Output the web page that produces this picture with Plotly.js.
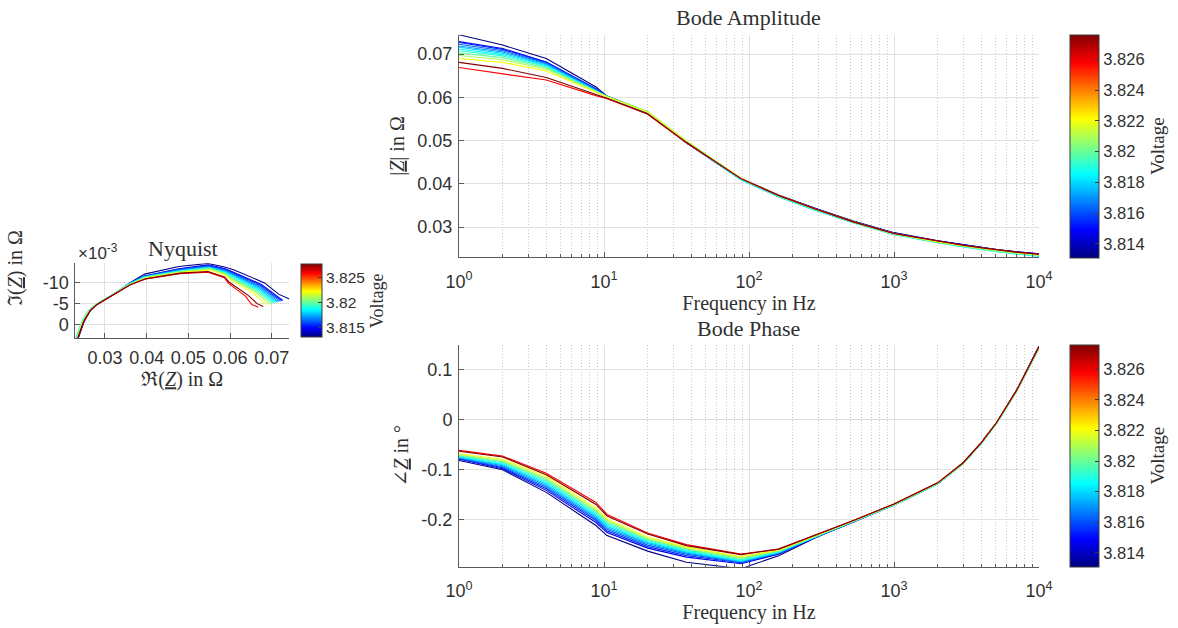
<!DOCTYPE html>
<html>
<head>
<meta charset="utf-8">
<script src="https://cdn.plot.ly/plotly-3.0.1.min.js"></script>
<style>html,body{margin:0;padding:0;background:#fff}#chart{width:1178px;height:628px}</style>
</head>
<body>
<div id="chart"></div>
<script>
// ---------------- data ----------------
const FREQ = [1, 2, 4, 8.8, 10.5, 20, 37, 88, 160, 290, 525, 1000, 2000, 3000, 4000, 5100, 7000, 10000];
const VOLTAGES = [3.8131, 3.8146, 3.8155, 3.8163, 3.8171, 3.8178, 3.8185, 3.8192, 3.8200, 3.8209, 3.8220, 3.8258, 3.8276];

// |Z| in Ohm, one row per voltage
const AMPLITUDE = [
  [0.0745, 0.0721, 0.0690, 0.0624, 0.0603, 0.0566, 0.0497, 0.0413, 0.0374, 0.0343, 0.0314, 0.0287, 0.0268, 0.0259, 0.0253, 0.0248, 0.0243, 0.0238],
  [0.0729, 0.0713, 0.0682, 0.0620, 0.0602, 0.0566, 0.0495, 0.0411, 0.0373, 0.0342, 0.0313, 0.0286, 0.0268, 0.0259, 0.0253, 0.0248, 0.0243, 0.0238],
  [0.0727, 0.0711, 0.0681, 0.0619, 0.0602, 0.0565, 0.0495, 0.0411, 0.0372, 0.0341, 0.0313, 0.0286, 0.0267, 0.0258, 0.0252, 0.0247, 0.0242, 0.0237],
  [0.0723, 0.0708, 0.0679, 0.0618, 0.0601, 0.0565, 0.0495, 0.0410, 0.0371, 0.0340, 0.0312, 0.0285, 0.0266, 0.0257, 0.0251, 0.0246, 0.0241, 0.0236],
  [0.0719, 0.0705, 0.0677, 0.0617, 0.0601, 0.0565, 0.0495, 0.0410, 0.0370, 0.0339, 0.0311, 0.0284, 0.0265, 0.0256, 0.0250, 0.0245, 0.0240, 0.0235],
  [0.0716, 0.0702, 0.0675, 0.0616, 0.0601, 0.0565, 0.0495, 0.0410, 0.0370, 0.0339, 0.0310, 0.0283, 0.0264, 0.0255, 0.0249, 0.0244, 0.0239, 0.0234],
  [0.0712, 0.0699, 0.0673, 0.0615, 0.0601, 0.0566, 0.0496, 0.0410, 0.0370, 0.0338, 0.0310, 0.0283, 0.0264, 0.0254, 0.0248, 0.0243, 0.0238, 0.0232],
  [0.0708, 0.0696, 0.0671, 0.0614, 0.0602, 0.0567, 0.0498, 0.0411, 0.0371, 0.0339, 0.0310, 0.0283, 0.0264, 0.0255, 0.0248, 0.0243, 0.0238, 0.0233],
  [0.0703, 0.0692, 0.0668, 0.0613, 0.0602, 0.0567, 0.0499, 0.0412, 0.0372, 0.0340, 0.0311, 0.0284, 0.0265, 0.0255, 0.0249, 0.0244, 0.0239, 0.0234],
  [0.0697, 0.0687, 0.0665, 0.0612, 0.0602, 0.0567, 0.0499, 0.0413, 0.0372, 0.0341, 0.0312, 0.0284, 0.0265, 0.0256, 0.0250, 0.0245, 0.0240, 0.0235],
  [0.0690, 0.0681, 0.0661, 0.0611, 0.0601, 0.0566, 0.0498, 0.0413, 0.0373, 0.0341, 0.0312, 0.0285, 0.0266, 0.0257, 0.0251, 0.0246, 0.0241, 0.0236],
  [0.0669, 0.0654, 0.0640, 0.0604, 0.0597, 0.0561, 0.0495, 0.0412, 0.0373, 0.0341, 0.0312, 0.0285, 0.0267, 0.0258, 0.0252, 0.0247, 0.0242, 0.0237],
  [0.0681, 0.0667, 0.0646, 0.0606, 0.0598, 0.0562, 0.0496, 0.0412, 0.0373, 0.0341, 0.0312, 0.0285, 0.0267, 0.0258, 0.0252, 0.0247, 0.0242, 0.0237]
];

// phase of Z, one row per voltage
const PHASE = [
  [-0.0814, -0.100, -0.145, -0.211, -0.231, -0.262, -0.284, -0.297, -0.271, -0.235, -0.204, -0.170, -0.128, -0.087, -0.047, -0.007, 0.058, 0.146],
  [-0.0790, -0.098, -0.141, -0.205, -0.225, -0.256, -0.274, -0.287, -0.268, -0.234, -0.204, -0.170, -0.128, -0.087, -0.047, -0.007, 0.058, 0.146],
  [-0.0780, -0.096, -0.138, -0.201, -0.222, -0.253, -0.271, -0.285, -0.267, -0.233, -0.203, -0.170, -0.128, -0.087, -0.047, -0.007, 0.058, 0.145],
  [-0.0770, -0.094, -0.135, -0.198, -0.219, -0.250, -0.268, -0.284, -0.266, -0.233, -0.203, -0.169, -0.127, -0.086, -0.046, -0.006, 0.058, 0.145],
  [-0.0760, -0.092, -0.132, -0.195, -0.216, -0.247, -0.266, -0.283, -0.265, -0.233, -0.203, -0.169, -0.127, -0.086, -0.046, -0.006, 0.058, 0.144],
  [-0.0750, -0.090, -0.129, -0.192, -0.213, -0.245, -0.264, -0.282, -0.265, -0.233, -0.203, -0.170, -0.128, -0.087, -0.047, -0.007, 0.057, 0.143],
  [-0.0740, -0.088, -0.126, -0.189, -0.210, -0.243, -0.262, -0.281, -0.264, -0.233, -0.203, -0.170, -0.128, -0.088, -0.048, -0.008, 0.056, 0.142],
  [-0.0725, -0.086, -0.123, -0.186, -0.207, -0.241, -0.260, -0.279, -0.263, -0.232, -0.203, -0.170, -0.128, -0.088, -0.048, -0.008, 0.056, 0.142],
  [-0.0710, -0.084, -0.120, -0.183, -0.204, -0.239, -0.258, -0.277, -0.262, -0.232, -0.202, -0.169, -0.127, -0.087, -0.047, -0.007, 0.057, 0.143],
  [-0.0695, -0.082, -0.117, -0.180, -0.201, -0.237, -0.256, -0.275, -0.261, -0.231, -0.202, -0.169, -0.127, -0.087, -0.047, -0.007, 0.057, 0.143],
  [-0.0680, -0.079, -0.113, -0.176, -0.198, -0.234, -0.254, -0.273, -0.260, -0.231, -0.202, -0.168, -0.126, -0.086, -0.046, -0.006, 0.058, 0.144],
  [-0.0614, -0.0728, -0.107, -0.165, -0.189, -0.226, -0.249, -0.268, -0.258, -0.230, -0.201, -0.168, -0.126, -0.086, -0.046, -0.006, 0.058, 0.145],
  [-0.0630, -0.0745, -0.110, -0.169, -0.192, -0.228, -0.251, -0.269, -0.258, -0.230, -0.201, -0.168, -0.126, -0.086, -0.046, -0.006, 0.058, 0.145]
];

// tick labels
const FREQ_TICKS = [1, 10, 100, 1000, 10000];
const FREQ_TICK_TEXT = ['10<sup>0</sup>', '10<sup>1</sup>', '10<sup>2</sup>', '10<sup>3</sup>', '10<sup>4</sup>'];
const AMP_TICKS = [0.03, 0.04, 0.05, 0.06, 0.07];
const AMP_TICK_TEXT = ['0.03', '0.04', '0.05', '0.06', '0.07'];
const PHASE_TICKS = [-0.2, -0.1, 0, 0.1];
const PHASE_TICK_TEXT = ['-0.2', '-0.1', '0', '0.1'];
const NYQ_X_TICKS = [0.03, 0.04, 0.05, 0.06, 0.07];
const NYQ_X_TICK_TEXT = ['0.03', '0.04', '0.05', '0.06', '0.07'];
const NYQ_Y_TICKS = [-0.01, -0.005, 0];
const NYQ_Y_TICK_TEXT = ['-10', '-5', '0'];
const CB_BODE_TICKS = [3.814, 3.816, 3.818, 3.82, 3.822, 3.824, 3.826];
const CB_BODE_TICK_TEXT = ['3.814', '3.816', '3.818', '3.82', '3.822', '3.824', '3.826'];
const CB_NYQ_TICKS = [3.815, 3.82, 3.825];
const CB_NYQ_TICK_TEXT = ['3.815', '3.82', '3.825'];

// ---------------- styling helpers ----------------
const W = 1178, H = 628;
const px = v => v / W;
const py = v => 1 - v / H;
const SANS = 'Liberation Sans, Arial, Helvetica, sans-serif';
const SERIF = 'Liberation Serif, Times New Roman, DejaVu Serif, serif';
const TXT = '#303030';

function jet(t) {
  const c = v => Math.round(255 * Math.max(0, Math.min(1, v)));
  return 'rgb(' + c(1.5 - Math.abs(4 * t - 3)) + ',' + c(1.5 - Math.abs(4 * t - 2)) + ',' + c(1.5 - Math.abs(4 * t - 1)) + ')';
}
const vMin = Math.min(...VOLTAGES), vMax = Math.max(...VOLTAGES);
const JET_SCALE = [0, 0.125, 0.375, 0.625, 0.875, 1].map(s => [s, jet(s)]);
const colorOf = v => jet((v - vMin) / (vMax - vMin));

const traces = [];
VOLTAGES.forEach((v, i) => {
  const col = colorOf(v);
  const line = {color: col, width: 1.1};
  traces.push({type: 'scatter', mode: 'lines', x: FREQ, y: AMPLITUDE[i], xaxis: 'x', yaxis: 'y', line: line, name: v + ' V', showlegend: false, hoverinfo: 'skip'});
  traces.push({type: 'scatter', mode: 'lines', x: FREQ, y: PHASE[i], xaxis: 'x2', yaxis: 'y2', line: line, name: v + ' V', showlegend: false, hoverinfo: 'skip'});
  const re = AMPLITUDE[i].map((a, k) => a * Math.cos(PHASE[i][k]));
  const im = AMPLITUDE[i].map((a, k) => a * Math.sin(PHASE[i][k]));
  traces.push({type: 'scatter', mode: 'lines', x: re, y: im, xaxis: 'x3', yaxis: 'y3', line: line, name: v + ' V', showlegend: false, hoverinfo: 'skip'});
});

function cbTrace(xa, ya, xv, yv, cb) {
  return {type: 'scatter', mode: 'markers', x: [xv], y: [yv], xaxis: xa, yaxis: ya, hoverinfo: 'skip', showlegend: false,
    marker: {size: 1, opacity: 0, color: [vMin], cmin: vMin, cmax: vMax, colorscale: JET_SCALE, showscale: true, colorbar: cb}};
}
function cb(xl, ytop, ybot, thick, tv, tt, fs, tfs) {
  return {x: px(xl), xanchor: 'left', xref: 'paper', y: py(ytop), yanchor: 'top', yref: 'paper',
    len: (ybot - ytop) / H, lenmode: 'fraction', thickness: thick, thicknessmode: 'pixels',
    xpad: 0, ypad: 0, outlinewidth: 1, outlinecolor: '#3a3a3a', bgcolor: 'rgba(0,0,0,0)',
    tickmode: 'array', tickvals: tv, ticktext: tt, ticks: 'inside', ticklen: 4, tickcolor: '#3a3a3a', tickwidth: 1,
    tickfont: {family: SANS, size: fs, color: TXT},
    title: {text: 'Voltage', side: 'right', font: {family: SERIF, size: tfs, color: TXT}}};
}
traces.unshift(cbTrace('x3', 'y3', AMPLITUDE[0][0], 0, cb(301, 264.3, 337.3, 21, CB_NYQ_TICKS, CB_NYQ_TICK_TEXT, 15.5, 18)));
traces.unshift(cbTrace('x2', 'y2', FREQ[0], PHASE[0][0], cb(1070, 344.7, 566.7, 29, CB_BODE_TICKS, CB_BODE_TICK_TEXT, 16.5, 19)));
traces.unshift(cbTrace('x', 'y', FREQ[0], AMPLITUDE[0][0], cb(1070, 34.7, 257.3, 29, CB_BODE_TICKS, CB_BODE_TICK_TEXT, 16.5, 19)));

const baseAxis = {
  showline: true, linecolor: '#5a5a5a', linewidth: 1, mirror: false,
  ticks: 'inside', ticklen: 5, tickcolor: '#5a5a5a', tickwidth: 1,
  showgrid: true, gridcolor: '#e1e1e1', gridwidth: 1, zeroline: false,
  tickfont: {family: SANS, size: 18, color: TXT}, tickmode: 'array', fixedrange: true
};
const freqMinor = {dtick: 'D1', showgrid: true, gridcolor: '#cbcbcb', griddash: '1px,2px', gridwidth: 1, ticks: 'inside', ticklen: 3, tickcolor: '#5a5a5a'};
const axTitle = (t, so) => ({text: t, standoff: so, font: {family: SERIF, size: 20, color: TXT}});

const layout = {
  width: W, height: H, margin: {l: 0, r: 0, t: 0, b: 0, pad: 0},
  paper_bgcolor: '#ffffff', plot_bgcolor: '#ffffff', showlegend: false, hovermode: false,
  xaxis: Object.assign({}, baseAxis, {domain: [px(459), px(1039)], anchor: 'y', type: 'log', range: [0, 4],
    tickvals: FREQ_TICKS, ticktext: FREQ_TICK_TEXT, minor: freqMinor, ticklabelstandoff: 8, title: axTitle('Frequency in Hz', 1)}),
  yaxis: Object.assign({}, baseAxis, {domain: [py(257.3), py(34.7)], anchor: 'x', range: [0.0230, 0.0745],
    tickvals: AMP_TICKS, ticktext: AMP_TICK_TEXT, ticklabelstandoff: 2, title: axTitle('|<u><i>Z</i></u>| in Ω', 7)}),
  xaxis2: Object.assign({}, baseAxis, {domain: [px(459), px(1039)], anchor: 'y2', type: 'log', range: [0, 4],
    tickvals: FREQ_TICKS, ticktext: FREQ_TICK_TEXT, minor: freqMinor, ticklabelstandoff: 8, title: axTitle('Frequency in Hz', 1)}),
  yaxis2: Object.assign({}, baseAxis, {domain: [py(566.7), py(344.7)], anchor: 'x2', range: [-0.293, 0.149],
    tickvals: PHASE_TICKS, ticktext: PHASE_TICK_TEXT, ticklabelstandoff: 2, title: axTitle('∠<u><i>Z</i></u> in °', 7)}),
  xaxis3: Object.assign({}, baseAxis, {domain: [px(75.3), px(289.3)], anchor: 'y3', range: [0.02288, 0.07422],
    tickvals: NYQ_X_TICKS, ticktext: NYQ_X_TICK_TEXT, ticklabelstandoff: 4, title: axTitle('ℜ(<u><i>Z</i></u>) in Ω', 1)}),
  yaxis3: Object.assign({}, baseAxis, {domain: [py(337.7), py(263.3)], anchor: 'x3', range: [0.00326, -0.0147],
    tickvals: NYQ_Y_TICKS, ticktext: NYQ_Y_TICK_TEXT, ticklabelstandoff: 2}),
  annotations: [
    {text: 'Bode Amplitude', x: px(749), y: py(18), xref: 'paper', yref: 'paper', xanchor: 'center', yanchor: 'middle', showarrow: false, font: {family: SERIF, size: 22, color: TXT}},
    {text: 'Bode Phase', x: px(749), y: py(328), xref: 'paper', yref: 'paper', xanchor: 'center', yanchor: 'middle', showarrow: false, font: {family: SERIF, size: 22, color: TXT}},
    {text: 'Nyquist', x: px(183), y: py(249), xref: 'paper', yref: 'paper', xanchor: 'center', yanchor: 'middle', showarrow: false, font: {family: SERIF, size: 22, color: TXT}},
    {text: '×10<sup>-3</sup>', x: px(76), y: py(252), xref: 'paper', yref: 'paper', xanchor: 'left', yanchor: 'middle', showarrow: false, font: {family: SANS, size: 17, color: TXT}},
    {text: 'ℑ(<u><i>Z</i></u>) in Ω', x: px(15), y: py(268), xref: 'paper', yref: 'paper', xanchor: 'center', yanchor: 'middle', textangle: -90, showarrow: false, font: {family: SERIF, size: 20, color: TXT}}
  ]
};

Plotly.newPlot('chart', traces, layout, {staticPlot: true, displayModeBar: false});
</script>
</body>
</html>
